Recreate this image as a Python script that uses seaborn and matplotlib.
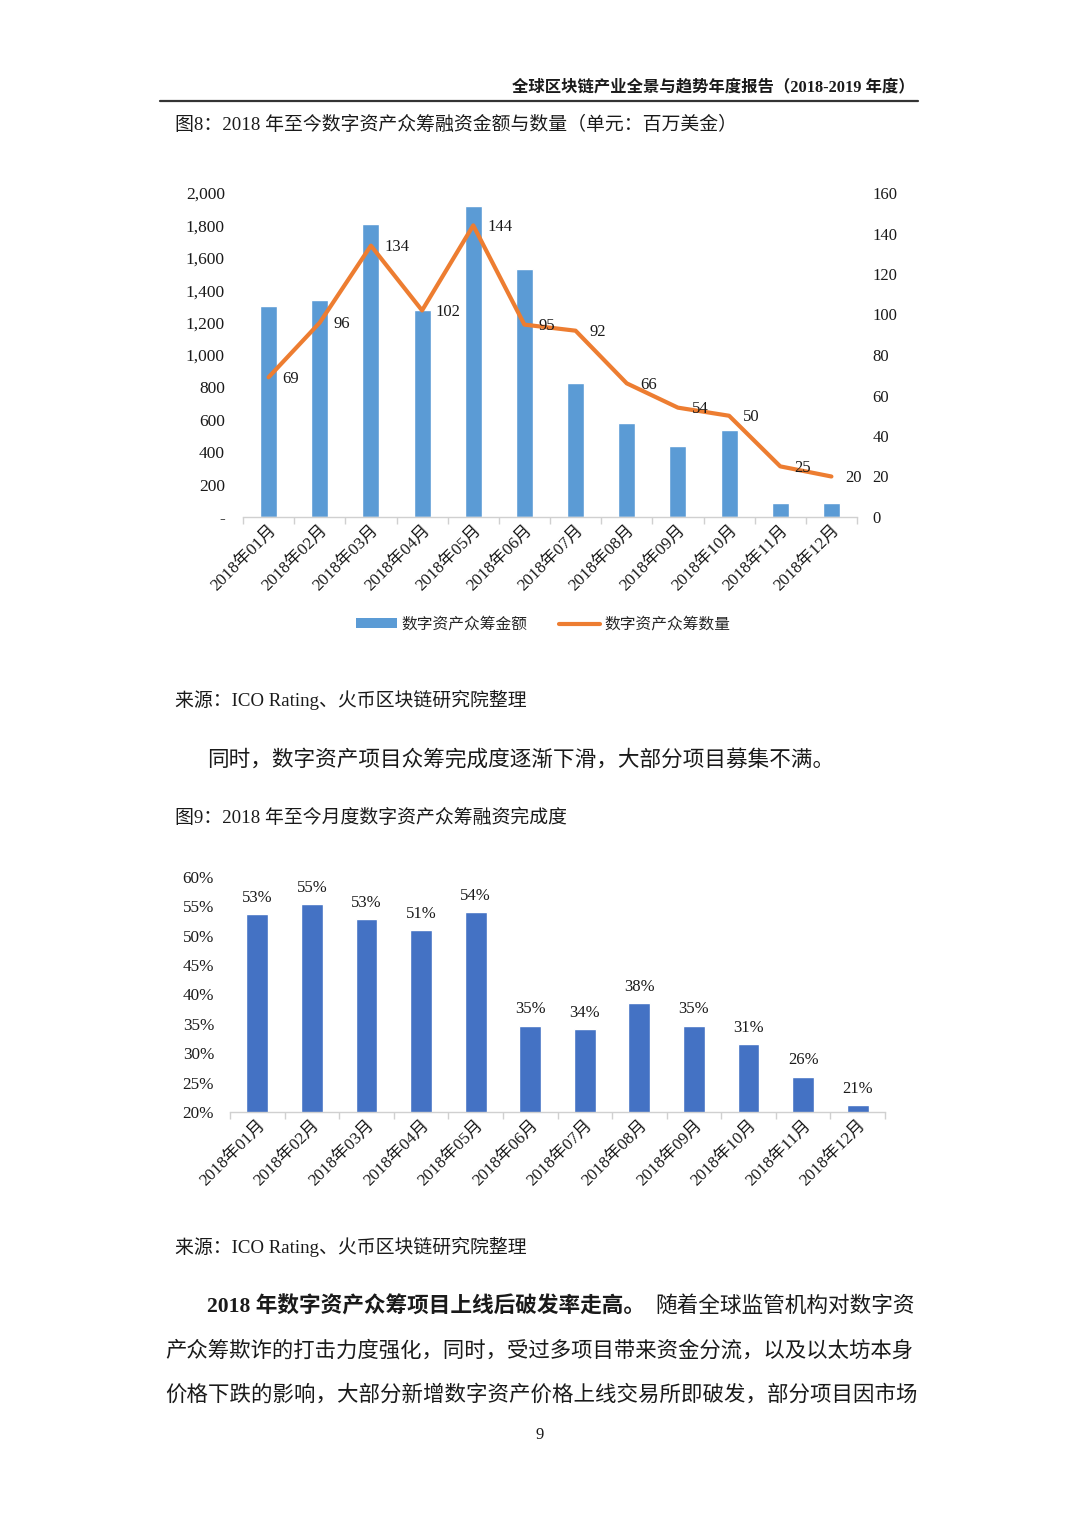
import numpy as np
import pandas as pd
import seaborn as sn
import matplotlib.pyplot as plt
from matplotlib.lines import Line2D
from matplotlib.patches import Patch
from matplotlib.ticker import FixedLocator

# data
months = ['2018年%02d月' % m for m in range(1, 13)]
amounts = [1300, 1338, 1808, 1280, 1920, 1530, 826, 580, 436, 534, 84, 84]  # 百万美金
counts = [69, 96, 134, 102, 144, 95, 92, 66, 54, 50, 25, 20]
completion = [0.537, 0.554, 0.528, 0.510, 0.540, 0.347, 0.341, 0.385, 0.347, 0.316, 0.260, 0.212]
completion_labels = ['53%', '55%', '53%', '51%', '54%', '35%', '34%', '38%', '35%', '31%', '26%', '21%']
amount_ticks = [0, 200, 400, 600, 800, 1000, 1200, 1400, 1600, 1800, 2000]
count_ticks = [0, 20, 40, 60, 80, 100, 120, 140, 160]
pct_ticks = [0.20, 0.25, 0.30, 0.35, 0.40, 0.45, 0.50, 0.55, 0.60]

sn.set_theme(style='white')
plt.rcParams['font.family'] = ['Liberation Serif', 'Noto Sans CJK SC', 'DejaVu Sans']

W, H = 1080, 1526
fig = plt.figure(figsize=(W / 100, H / 100), dpi=100)
fig.patch.set_facecolor('white')

def fx(px):
    return px / W

def fy(py):
    return 1 - py / H

BAR1 = '#5B9BD5'
LINE1 = '#ED7D31'
BAR2 = '#4472C4'
TXT = '#1a1a1a'

# ---- page header ----
fig.text(fx(915), fy(88), '全球区块链产业全景与趋势年度报告（2018-2019 年度）', ha='right', va='center',
         fontsize=11.75, fontweight='bold', color=TXT)
fig.add_artist(Line2D([fx(160), fx(918)], [fy(101), fy(101)], color='#333333', lw=1.6))
fig.text(fx(175), fy(125), '图8：2018 年至今数字资产众筹融资金额与数量（单元：百万美金）', ha='left', va='center',
         fontsize=13.6, color=TXT)

df = pd.DataFrame({'month': months, 'amount': amounts, 'count': counts, 'completion': completion})

def style_xaxis(ax, n):
    ax.set_xlim(-0.5, n - 0.5)
    for s in ['top', 'left', 'right']:
        ax.spines[s].set_visible(False)
    ax.spines['bottom'].set_color('#d0d0d0')
    ax.spines['bottom'].set_linewidth(1.0)
    ax.xaxis.set_minor_locator(FixedLocator(np.arange(-0.5, n, 1.0)))
    ax.tick_params(axis='x', which='major', length=0, pad=4)
    ax.tick_params(axis='x', which='minor', length=5, color='#d0d0d0', width=1.0, bottom=True)
    ax.set_xlabel('')
    ax.set_ylabel('')
    for lab in ax.get_xticklabels():
        lab.set_rotation(45)
        lab.set_ha('right')
        lab.set_rotation_mode('anchor')
        lab.set_fontsize(12.3)
        lab.set_color(TXT)

# ---- chart 1: amount bars + count line ----
ax1 = fig.add_axes([fx(243), fy(517), fx(857) - fx(243), fy(193) - fy(517)])
sn.barplot(data=df, x='month', y='amount', ax=ax1, color=BAR1, saturation=1, width=0.33)
ax1.set_ylim(0, 2000)
ax1.set_yticks(amount_ticks)
ax1.set_yticklabels(['-'] + ['{:,}'.format(t) for t in amount_ticks[1:]], fontsize=12.5, color=TXT)
ax1.tick_params(axis='y', length=0, pad=13)
style_xaxis(ax1, len(months))
ax1.set_facecolor('none')

ax2 = ax1.twinx()
sn.lineplot(x=np.arange(len(df)), y=df['count'], ax=ax2, color=LINE1, linewidth=3.0)
ax2.set_ylim(0, 160)
ax2.set_yticks(count_ticks)
ax2.set_yticklabels([str(t) for t in count_ticks], fontsize=12, color=TXT)
ax2.tick_params(axis='y', length=0, pad=11)
ax2.set_ylabel('')
for s in ax2.spines.values():
    s.set_visible(False)
for i, v in enumerate(counts):
    ax2.annotate(str(v), (i, v), xytext=(10, -1), textcoords='offset points', ha='left', va='center',
                 fontsize=12, color=TXT)

handles = [Patch(facecolor=BAR1, edgecolor='none'), Line2D([0], [0], color=LINE1, lw=3)]
ax1.legend(handles, ['数字资产众筹金额', '数字资产众筹数量'], loc='center', ncol=2, frameon=False,
           bbox_to_anchor=(fx(543), fy(625)), bbox_transform=fig.transFigure,
           fontsize=11.3, handlelength=2.6, handleheight=0.6, columnspacing=2.0, handletextpad=0.3)

fig.text(fx(175), fy(700), '来源：ICO Rating、火币区块链研究院整理', ha='left', va='center', fontsize=13.6, color=TXT)
fig.text(fx(207), fy(760), '同时，数字资产项目众筹完成度逐渐下滑，大部分项目募集不满。', ha='left', va='center',
         fontsize=15.55, color=TXT)
fig.text(fx(175), fy(818), '图9：2018 年至今月度数字资产众筹融资完成度', ha='left', va='center', fontsize=13.6, color=TXT)

# ---- chart 2: completion ----
ax3 = fig.add_axes([fx(230), fy(1112), fx(885) - fx(230), fy(877) - fy(1112)])
sn.barplot(data=df, x='month', y='completion', ax=ax3, color=BAR2, saturation=1, width=0.4)
ax3.set_ylim(0.2, 0.6)
ax3.set_yticks(pct_ticks)
ax3.set_yticklabels(['{:.0f}%'.format(t * 100) for t in pct_ticks], fontsize=12.3, color=TXT)
ax3.tick_params(axis='y', length=0, pad=11.5)
style_xaxis(ax3, len(months))
for i, (v, lab) in enumerate(zip(completion, completion_labels)):
    ax3.annotate(lab, (i, v), xytext=(0, 6), textcoords='offset points', ha='center', va='bottom',
                 fontsize=12, color=TXT)

fig.text(fx(175), fy(1247), '来源：ICO Rating、火币区块链研究院整理', ha='left', va='center', fontsize=13.6, color=TXT)

# ---- body paragraph ----
fig.text(fx(207), fy(1307), '2018 年数字资产众筹项目上线后破发率走高。', ha='left', va='center',
         fontsize=15.6, fontweight='bold', color=TXT)
fig.text(fx(915), fy(1307), '随着全球监管机构对数字资', ha='right', va='center', fontsize=15.6, color=TXT)
fig.text(fx(165), fy(1351), '产众筹欺诈的打击力度强化，同时，受过多项目带来资金分流，以及以太坊本身', ha='left',
         va='center', fontsize=15.4, color=TXT)
fig.text(fx(165), fy(1395), '价格下跌的影响，大部分新增数字资产价格上线交易所即破发，部分项目因市场', ha='left',
         va='center', fontsize=15.45, color=TXT)
fig.text(fx(540), fy(1435), '9', ha='center', va='center', fontsize=12, color=TXT)

fig.savefig('out.png', dpi=100, facecolor='white')
